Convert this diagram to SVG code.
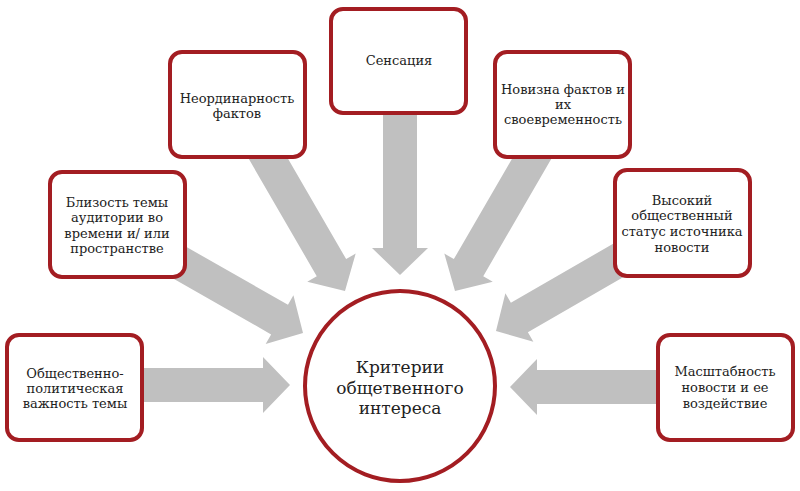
<svg xmlns="http://www.w3.org/2000/svg" width="800" height="491" viewBox="0 0 800 491">
<style>
.box{fill:#fff;stroke:#A31D22;stroke-width:4}
.arr{fill:#C0C0C0}
.t{font-family:"DejaVu Serif","Liberation Serif",serif;font-size:13px;fill:#222;text-anchor:middle}
.tc{font-family:"DejaVu Serif","Liberation Serif",serif;font-size:17px;fill:#222;text-anchor:middle}
</style>
<defs>
<polygon id="ar" points="0,0 -27,-28 -27,-17 -216,-17 -216,17 -27,17 -27,28"/>
</defs>
<rect width="800" height="491" fill="#fff"/>
<g id="connectors">
<use href="#ar" class="arr" transform="translate(290,385)"/>
<use href="#ar" class="arr" transform="translate(303,333) rotate(29.7)"/>
<use href="#ar" class="arr" transform="translate(345,291) rotate(59.9)"/>
<use href="#ar" class="arr" transform="translate(400,275) rotate(90)"/>
<use href="#ar" class="arr" transform="translate(455,291) rotate(120.1)"/>
<use href="#ar" class="arr" transform="translate(496,331) rotate(150)"/>
<use href="#ar" class="arr" transform="translate(510,387) rotate(180)"/>
</g>
<g id="center">
<circle class="box" cx="400" cy="386" r="95"/>
<text class="tc" x="400" y="373">Критерии</text>
<text class="tc" x="400" y="394">общетвенного</text>
<text class="tc" x="400" y="414">интереса</text>
</g>
<g id="n1">
<rect class="box" x="7" y="335" width="135" height="105" rx="12"/>
<text class="t" x="75" y="378">Общественно-</text>
<text class="t" x="75" y="393">политическая</text>
<text class="t" x="75" y="408">важность темы</text>
</g>
<g id="n2">
<rect class="box" x="50" y="172" width="135" height="105" rx="12"/>
<text class="t" x="117" y="207">Близость темы</text>
<text class="t" x="117" y="222">аудитории во</text>
<text class="t" x="117" y="238">времени и/ или</text>
<text class="t" x="117" y="253">пространстве</text>
</g>
<g id="n3">
<rect class="box" x="170" y="52" width="135" height="105" rx="12"/>
<text class="t" x="237" y="103">Неординарность</text>
<text class="t" x="237" y="118">фактов</text>
</g>
<g id="n4">
<rect class="box" x="331" y="9" width="135" height="104" rx="12"/>
<text class="t" x="399" y="65">Сенсация</text>
</g>
<g id="n5">
<rect class="box" x="495" y="52" width="135" height="105" rx="12"/>
<text class="t" x="563" y="94">Новизна фактов и</text>
<text class="t" x="563" y="109">их</text>
<text class="t" x="563" y="124">своевременность</text>
</g>
<g id="n6">
<rect class="box" x="615" y="170" width="135" height="106" rx="12"/>
<text class="t" x="682" y="205">Высокий</text>
<text class="t" x="682" y="220">общественный</text>
<text class="t" x="682" y="236">статус источника</text>
<text class="t" x="682" y="252">новости</text>
</g>
<g id="n7">
<rect class="box" x="658" y="335" width="135" height="105" rx="12"/>
<text class="t" x="725" y="376">Масштабность</text>
<text class="t" x="725" y="392">новости и ее</text>
<text class="t" x="725" y="408">воздействие</text>
</g>
</svg>
